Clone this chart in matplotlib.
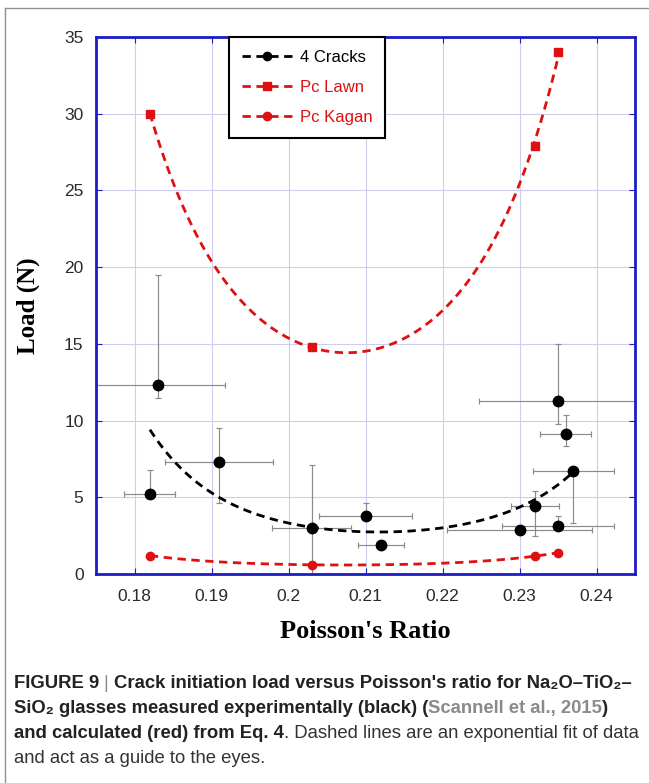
import numpy as np
import matplotlib

matplotlib.use("Agg")
import matplotlib.pyplot as plt
from matplotlib.lines import Line2D
from matplotlib.transforms import IdentityTransform

# measured data (4 cracks), black
crack_x = [0.183, 0.182, 0.191, 0.203, 0.210, 0.212, 0.235, 0.236, 0.237, 0.232, 0.230, 0.235]
crack_y = [12.3, 5.2, 7.3, 3.0, 3.8, 1.9, 11.3, 9.1, 6.7, 4.4, 2.9, 3.1]
crack_xerr = [0.0087, 0.0033, 0.0070, 0.0051, 0.0060, 0.0030, 0.0103, 0.0033, 0.0053, 0.0031, 0.0094, 0.0073]
crack_yerr_lo = [0.8, 0.0, 2.7, 3.0, 0.0, 0.0, 1.5, 0.75, 3.4, 1.95, 0.0, 0.0]
crack_yerr_hi = [7.2, 1.6, 2.2, 4.1, 0.85, 0.0, 3.7, 1.25, 0.0, 1.0, 0.0, 0.7]

# calculated (red)
calc_x = [0.182, 0.203, 0.232, 0.235]
lawn_y = [30.0, 14.8, 27.9, 34.0]
kagan_y = [1.2, 0.6, 1.15, 1.4]

x_ticks = [0.18, 0.19, 0.20, 0.21, 0.22, 0.23, 0.24]
x_labels = ["0.18", "0.19", "0.2", "0.21", "0.22", "0.23", "0.24"]
y_ticks = [0, 5, 10, 15, 20, 25, 30, 35]

BLUE = "#1c1cc4"
RED = "#e01010"
SANS = ["Liberation Sans", "DejaVu Sans"]
SERIF = ["Liberation Serif", "DejaVu Serif"]


def exp_fit(x, y, x0, x1):
    # exponential (of quadratic) fit, only a guide to the eyes
    c = np.polyfit(np.asarray(x), np.log(np.asarray(y)), 2)
    xs = np.linspace(x0, x1, 200)
    return xs, np.exp(np.polyval(c, xs))


fig = plt.figure(figsize=(6.49, 7.83), dpi=100)
ax = fig.add_axes([96 / 649, 1 - 574 / 783, (635 - 96) / 649, (574 - 37) / 783])

ax.errorbar(crack_x, crack_y, xerr=crack_xerr, yerr=[crack_yerr_lo, crack_yerr_hi],
            fmt="none", ecolor="#8a8a8a", elinewidth=0.85, capsize=2.5, capthick=0.85, zorder=2)

fx, fy = exp_fit(crack_x, crack_y, 0.182, 0.237)
ax.plot(fx, fy, color="black", lw=2.0, dashes=(3, 2), zorder=3)
fx, fy = exp_fit(calc_x, lawn_y, 0.182, 0.235)
ax.plot(fx, fy, color=RED, lw=2.0, dashes=(3, 2), zorder=3)
fx, fy = exp_fit(calc_x, kagan_y, 0.182, 0.235)
ax.plot(fx, fy, color=RED, lw=2.0, dashes=(3, 2), zorder=3)

ax.plot(crack_x, crack_y, "o", color="black", ms=7.5, zorder=5)
ax.plot(calc_x, lawn_y, "s", color=RED, ms=6, zorder=5)
ax.plot(calc_x, kagan_y, "o", color=RED, ms=6, zorder=5)

ax.set_xlim(0.175, 0.245)
ax.set_ylim(0, 35)
ax.set_xticks(x_ticks)
ax.set_xticklabels(x_labels)
ax.set_yticks(y_ticks)
ax.grid(True, color="#cdcdf0", lw=0.8)
ax.set_axisbelow(True)
for s in ax.spines.values():
    s.set_color(BLUE)
    s.set_linewidth(2.0)
ax.tick_params(axis="both", direction="in", length=4, color=BLUE, labelsize=12.5,
               labelcolor="#2a2a2a", right=True, top=True)
ax.tick_params(axis="x", pad=11)
ax.tick_params(axis="y", pad=9)
for lab in ax.get_xticklabels() + ax.get_yticklabels():
    lab.set_family(SANS)

ax.set_xlabel("Poisson's Ratio", family=SERIF, fontweight="bold", fontsize=19)
ax.set_ylabel("Load (N)", family=SERIF, fontweight="bold", fontsize=18)
ax.xaxis.set_label_coords(0.5, -0.086)
ax.yaxis.set_label_coords(-0.103, 0.5)

handles = [
    Line2D([], [], color="black", lw=2.0, dashes=(3, 2), marker="o", ms=6),
    Line2D([], [], color=RED, lw=2.0, dashes=(3, 2), marker="s", ms=6),
    Line2D([], [], color=RED, lw=2.0, dashes=(3, 2), marker="o", ms=6),
]
leg = ax.legend(handles, ["4 Cracks", "Pc Lawn", "Pc Kagan"], loc="upper left",
                bbox_to_anchor=(0.247, 1.0), borderaxespad=0, numpoints=1,
                handlelength=3.1, handletextpad=0.4, labelspacing=0.92,
                fancybox=False, framealpha=1, edgecolor="black",
                prop={"family": SANS, "size": 12}, borderpad=0.75)
leg.get_frame().set_linewidth(1.5)
for t, c in zip(leg.get_texts(), ["black", RED, RED]):
    t.set_color(c)

# frame lines of the figure panel
fig.add_artist(Line2D([4.5, 4.5], [0, 783 - 8], color="#909090", lw=1, transform=IdentityTransform()))
fig.add_artist(Line2D([4.5, 649], [783 - 8, 783 - 8], color="#909090", lw=1, transform=IdentityTransform()))

# caption, written run by run
renderer = fig.canvas.get_renderer()
GRAY = "#8a8a8a"
caption = [
    [("FIGURE 9 ", "bold", "#222222"), ("| ", "normal", GRAY),
     ("Crack initiation load versus Poisson's ratio for Na₂O–TiO₂–", "bold", "#222222")],
    [("SiO₂ glasses measured experimentally (black) (", "bold", "#222222"),
     ("Scannell et al., 2015", "bold", GRAY), (")", "bold", "#222222")],
    [("and calculated (red) from Eq. 4", "bold", "#222222"),
     (". Dashed lines are an exponential fit of data", "normal", "#333333")],
    [("and act as a guide to the eyes.", "normal", "#333333")],
]
baselines = [688, 713, 738, 763]
for runs, yb in zip(caption, baselines):
    x = 14
    for text, weight, color in runs:
        t = fig.text(x, 783 - yb, text, fontsize=13.3, fontweight=weight, color=color,
                     family=SANS, va="baseline", ha="left", transform=IdentityTransform())
        x += t.get_window_extent(renderer).width

fig.savefig("out.png", dpi=100)
